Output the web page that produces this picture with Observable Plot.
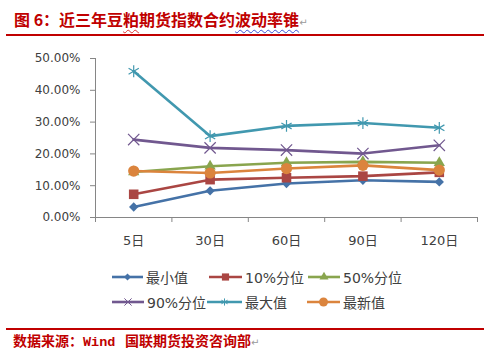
<!DOCTYPE html>
<html><head><meta charset="utf-8">
<script src="https://cdn.jsdelivr.net/npm/d3@7"></script>
<script src="https://cdn.jsdelivr.net/npm/@observablehq/plot@0.6"></script>
<style>
html,body{margin:0;padding:0;background:#fff;}
#wrap{position:relative;width:484px;height:357px;overflow:hidden;font-family:"Noto Sans CJK SC","DejaVu Sans",sans-serif;}
.title{position:absolute;left:14px;top:8px;font-size:16px;line-height:22px;font-weight:700;color:#C00000;white-space:nowrap;}
.wavy{text-decoration:underline wavy #3b4fd6;text-decoration-thickness:1px;text-underline-offset:3px;}
.wavyr{text-decoration:underline wavy #e03030;text-decoration-thickness:1px;text-underline-offset:3px;}
.pm{font-weight:400;color:#9a9a9a;font-size:10px;font-family:"DejaVu Sans",sans-serif;}
.rule{position:absolute;left:6px;right:0;height:2.5px;background:#C00000;}
.source{position:absolute;left:13px;top:330px;font-size:14px;line-height:20px;font-weight:700;color:#C00000;white-space:pre;}
.mono{font-family:"Liberation Mono",monospace;font-weight:700;font-size:13.5px;}
#chart{position:absolute;left:0;top:40px;}
.leg{position:absolute;display:flex;align-items:center;height:20px;font-size:14px;color:#404040;white-space:nowrap;font-family:"DejaVu Sans","Noto Sans CJK SC",sans-serif;}
.leg svg{display:block;margin-right:3px;}
</style></head>
<body><div id="wrap">
<div class="title">图 6：近三年豆<span class="wavyr">粕</span>期货指数合约<span class="wavy">波动率锥</span><span class="pm">↵</span></div>
<div class="rule" style="top:33.5px"></div>
<div id="chart"></div>
<div id="legend"></div>
<div class="rule" style="top:327.5px"></div>
<div class="source">数据来源：<span class="mono">Wind</span>   国联期货投资咨询部<span class="pm">↵</span></div>
</div>
<script>
const categories = ["5日", "30日", "60日", "90日", "120日"];
const seriesNames = ["最小值", "10%分位", "50%分位", "90%分位", "最大值", "最新值"];
const minValues    = [0.033, 0.084, 0.107, 0.117, 0.112];
const p10Values    = [0.073, 0.119, 0.125, 0.130, 0.142];
const p50Values    = [0.143, 0.161, 0.172, 0.175, 0.172];
const p90Values    = [0.245, 0.219, 0.212, 0.201, 0.227];
const maxValues    = [0.460, 0.256, 0.288, 0.297, 0.282];
const latestValues = [0.146, 0.140, 0.154, 0.164, 0.149];
const yTicks = [0, 0.1, 0.2, 0.3, 0.4, 0.5];

const seriesValues = [minValues, p10Values, p50Values, p90Values, maxValues, latestValues];
const colors = ["#4572A7", "#AA4643", "#89A54E", "#71588F", "#4198AF", "#DB843D"];
const symbols = ["diamond2", "square", "triangle", "times", "asterisk", "circle"];
const filled = [true, true, true, false, false, true];
const radii = [4.2, 5.4, 4.2, 5.2, 5.6, 5.6];

const rows = [];
seriesValues.forEach((vals, s) => vals.forEach((v, i) => rows.push({series: seriesNames[s], cat: i, value: v})));

const axisGray = "#868686";
const lineMarks = seriesNames.map((name, s) =>
  Plot.line(rows.filter(d => d.series === name), {x: "cat", y: "value", stroke: colors[s], strokeWidth: 2.6, strokeLinejoin: "round"}));
const dotMarks = seriesNames.map((name, s) =>
  Plot.dot(rows.filter(d => d.series === name), {
    x: "cat", y: "value", symbol: () => symbols[s], r: radii[s],
    fill: filled[s] ? colors[s] : "none",
    stroke: filled[s] ? "none" : colors[s], strokeWidth: filled[s] ? 0 : 1.2
  }));

const chart = Plot.plot({
  width: 484, height: 215,
  marginTop: 18, marginBottom: 38, marginLeft: 95, marginRight: 7,
  style: {fontFamily: "'DejaVu Sans','Noto Sans CJK SC',sans-serif", color: "#404040", background: "transparent"},
  x: {type: "linear", domain: [-0.5, categories.length - 0.5], label: null},
  y: {domain: [0, 0.5], label: null},
  symbol: {type: "identity"},
  marks: [
    Plot.axisY({ticks: yTicks, tickFormat: d3.format(".2%"), tickSize: 5, tickPadding: 10, stroke: axisGray, fill: "#404040", fontSize: 12, label: null, style: {letterSpacing: "0.4px"}}),
    Plot.axisX({ticks: d3.range(-0.5, categories.length, 1), tickSize: 5, tickFormat: () => "", stroke: axisGray, label: null}),
    Plot.axisX({ticks: d3.range(categories.length), tickSize: 0, tickPadding: 18, tickFormat: i => categories[i], fill: "#404040", fontSize: 13, label: null}),
    Plot.ruleY([0], {stroke: axisGray, strokeWidth: 1}),
    Plot.ruleX([-0.5], {y1: 0, y2: 0.5, stroke: axisGray, strokeWidth: 1}),
    ...lineMarks,
    ...dotMarks
  ]
});
document.getElementById("chart").appendChild(chart);

// legend
const legendLayout = [[112, 31, 277], [209, 33, 277], [308, 32, 277], [112, 32, 302], [207, 35, 302], [307, 33, 302]];
const legendScale = [0.75, 0.75, 0.8, 0.65, 0.6, 0.8];
const legend = document.getElementById("legend");
seriesNames.forEach((name, s) => {
  const [x, w, cy] = legendLayout[s];
  const item = document.createElement("div");
  item.className = "leg";
  item.style.left = x + "px";
  item.style.top = (cy - 10) + "px";
  const svg = d3.create("svg").attr("width", w).attr("height", 20);
  svg.append("line").attr("x1", 0).attr("x2", w).attr("y1", 10).attr("y2", 10)
    .attr("stroke", colors[s]).attr("stroke-width", 2.6);
  const symMap = {diamond2: d3.symbolDiamond2, square: d3.symbolSquare, triangle: d3.symbolTriangle, times: d3.symbolTimes, asterisk: d3.symbolAsterisk, circle: d3.symbolCircle};
  const r = radii[s] * legendScale[s];
  svg.append("path").attr("transform", `translate(${w / 2},10)`)
    .attr("d", d3.symbol(symMap[symbols[s]], Math.PI * r * r)())
    .attr("fill", filled[s] ? colors[s] : "none")
    .attr("stroke", filled[s] ? "none" : colors[s]).attr("stroke-width", 1);
  item.appendChild(svg.node());
  const t = document.createElement("span");
  t.textContent = name;
  item.appendChild(t);
  legend.appendChild(item);
});
</script>
</body></html>
